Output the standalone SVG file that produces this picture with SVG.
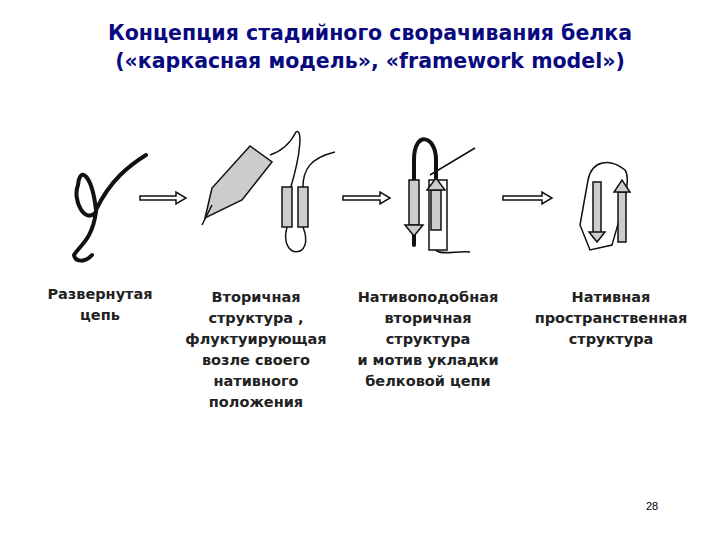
<svg xmlns="http://www.w3.org/2000/svg" width="720" height="540" viewBox="0 0 720 540">
<style>
.t{font-family:"DejaVu Sans","Liberation Sans",sans-serif;font-weight:bold;font-size:20.5px;fill:#0a0a80;text-anchor:middle}
.l{font-family:"DejaVu Sans","Liberation Sans",sans-serif;font-weight:bold;font-size:14.5px;fill:#222;text-anchor:middle}
.s{fill:none;stroke:#111;stroke-width:4;stroke-linecap:round}
.w{fill:none;stroke:#111;stroke-width:1.5}
.h{fill:#fff;stroke:#111;stroke-width:1.5}
.c{fill:#ccc;stroke:#111;stroke-width:1.5}
</style>
<rect width="720" height="540" fill="#fff"/>
<g id="title">
<text class="t" x="370" y="40">Концепция стадийного сворачивания белка</text>
<text class="t" x="370" y="68">(«каркасная модель», «framework model»)</text>
</g>
<g id="unfolded">
<path class="s" d="M146,155 C130,165 110,180 96,210 C92,175 80,165 78,185 C72,200 85,225 96,212 C92,240 80,245 74,255 C75,262 85,263 92,255"/>
</g>
<g id="secondary">
<path class="c" d="M205,218 L212,188 L250,146 L272,162 L242,200 Z"/>
<path class="w" d="M202,225 L212,205 M270,155 C285,150 292,140 296,132 C302,128 302,150 290,190"/>
<rect class="c" x="282" y="187" width="10" height="40"/>
<rect class="c" x="298" y="187" width="10" height="40"/>
<path class="w" d="M287,227 C278,260 316,260 303,227 M303,187 C303,170 310,158 335,152"/>
</g>
<g id="native-like">
<path class="s" d="M414,245 L414,160 C414,130 436,135 436,160 L436,178"/>
<path class="w" d="M430,175 L475,148"/>
<rect class="h" x="429" y="180" width="18" height="70"/>
<rect class="c" x="409" y="180" width="10" height="45"/>
<path class="c" d="M405,225 L423,225 L414,236 Z"/>
<rect class="c" x="431" y="190" width="10" height="40"/>
<path class="c" d="M427,190 L445,190 L436,178 Z"/>
<path class="w" d="M436,250 C440,256 460,250 470,252"/>
</g>
<g id="native">
<path class="h" d="M580,225 L588,180 C592,160 610,158 625,170 C632,180 622,210 612,245 L590,250 Z"/>
<rect class="c" x="593" y="182" width="8" height="55"/>
<path class="c" d="M589,232 L605,232 L597,242 Z"/>
<rect class="c" x="618" y="192" width="8" height="50"/>
<path class="c" d="M614,192 L630,192 L622,180 Z"/>
</g>
<g id="connectors">
<g class="h">
<path d="M140,196 L176,196 L176,192 L186,198 L176,204 L176,200 L140,200 Z"/>
<path d="M343,196 L380,196 L380,192 L390,198 L380,204 L380,200 L343,200 Z"/>
<path d="M503,196 L542,196 L542,192 L552,198 L542,204 L542,200 L503,200 Z"/>
</g>
</g>
<g id="labels">
<text class="l" x="100" y="299">Развернутая</text>
<text class="l" x="100" y="320">цепь</text>
<text class="l" x="256" y="302">Вторичная</text>
<text class="l" x="256" y="323">структура ,</text>
<text class="l" x="256" y="344">флуктуирующая</text>
<text class="l" x="256" y="365">возле своего</text>
<text class="l" x="256" y="386">нативного</text>
<text class="l" x="256" y="407">положения</text>
<text class="l" x="428" y="302">Нативоподобная</text>
<text class="l" x="428" y="323">вторичная</text>
<text class="l" x="428" y="344">структура</text>
<text class="l" x="428" y="365">и мотив укладки</text>
<text class="l" x="428" y="386">белковой цепи</text>
<text class="l" x="611" y="302">Нативная</text>
<text class="l" x="611" y="323">пространственная</text>
<text class="l" x="611" y="344">структура</text>
<text x="652" y="510" font-family="Liberation Sans,sans-serif" font-size="11" text-anchor="middle">28</text>
</g>
</svg>
